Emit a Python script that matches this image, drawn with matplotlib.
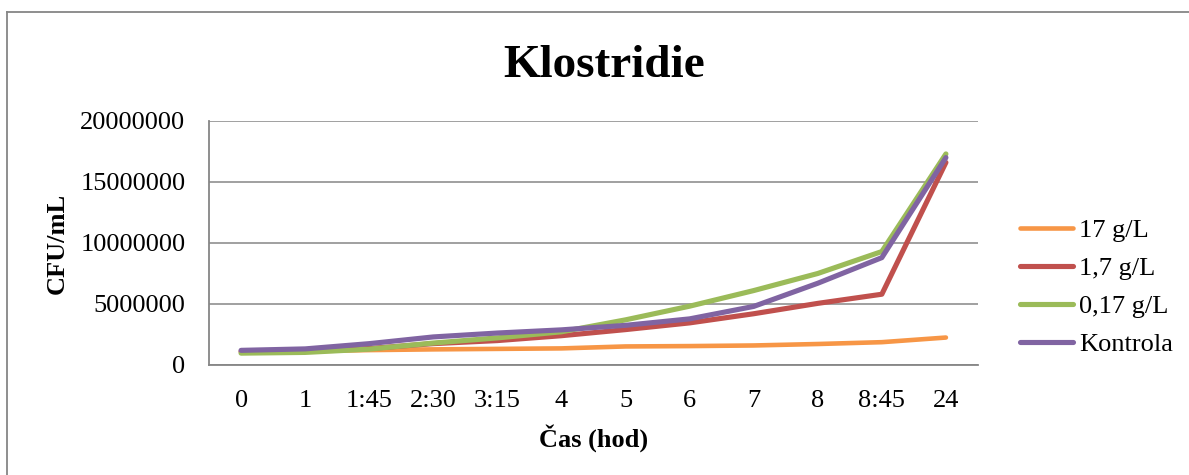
import numpy as np
import matplotlib
matplotlib.use('Agg')
import matplotlib.pyplot as plt
from matplotlib.lines import Line2D

plt.rcParams['font.family'] = ['Liberation Serif', 'DejaVu Serif']

# sampling times (hod) and CFU/mL for each concentration
times = ['0', '1', '1:45', '2:30', '3:15', '4', '5', '6', '7', '8', '8:45', '24']
c17 = [1.10e6, 1.13e6, 1.22e6, 1.28e6, 1.32e6, 1.36e6, 1.52e6, 1.55e6,
       1.60e6, 1.72e6, 1.87e6, 2.25e6]
c1_7 = [1.10e6, 1.15e6, 1.35e6, 1.75e6, 2.00e6, 2.40e6, 2.90e6, 3.45e6,
        4.20e6, 5.05e6, 5.80e6, 16.6e6]
c0_17 = [0.97e6, 1.03e6, 1.30e6, 1.80e6, 2.22e6, 2.72e6, 3.70e6, 4.82e6,
         6.10e6, 7.50e6, 9.30e6, 17.3e6]
kontrola = [1.20e6, 1.32e6, 1.75e6, 2.30e6, 2.62e6, 2.88e6, 3.25e6, 3.78e6,
            4.80e6, 6.70e6, 8.80e6, 17.0e6]
series_names = ['17 g/L', '1,7 g/L', '0,17 g/L', 'Kontrola']
yticks = [0, 5000000, 10000000, 15000000, 20000000]

colors = ['#F79646', '#C0504D', '#9BBB59', '#8064A2']
widths = [3.3, 3.7, 3.7, 3.7]
grid_col = '#868686'
fs = 19

fig = plt.figure(figsize=(11.89, 4.75), dpi=100)
ax = fig.add_axes([0.1758, 0.2316, 0.8225 - 0.1758, 0.7453 - 0.2316])

x = np.arange(len(times))
handles = []
for vals, col, lw, name in zip([c17, c1_7, c0_17, kontrola], colors, widths,
                               series_names):
    ln, = ax.plot(x, vals, color=col, lw=lw, solid_capstyle='round',
                  solid_joinstyle='round', label=name)
    handles.append(ln)

ax.set_xlim(-0.5, len(times) - 0.5)
ax.set_ylim(0, 20000000)
ax.set_xticks(x)
ax.set_xticklabels(times)
ax.set_yticks(yticks)
ax.set_yticklabels(['%d' % v for v in yticks])
ax.tick_params(axis='both', length=0, labelsize=fs)
ax.tick_params(axis='y', pad=17)
ax.tick_params(axis='x', pad=18)
ax.yaxis.grid(True, color=grid_col, lw=1.1)
ax.set_axisbelow(True)
for s in ['top', 'right']:
    ax.spines[s].set_visible(False)
for s in ['left', 'bottom']:
    ax.spines[s].set_color(grid_col)
    ax.spines[s].set_linewidth(1.3)

fig.text(0.508, 1 - 77 / 475., 'Klostridie', ha='center', va='baseline',
         fontsize=34, fontweight='bold')
fig.text(57 / 1189., 0.4884, 'CFU/mL', rotation=90, ha='center', va='center',
         fontsize=fs, fontweight='bold')
fig.text(594 / 1189., 1 - 438 / 475., 'Čas (hod)', ha='center', va='center',
         fontsize=fs, fontweight='bold')

leg = fig.legend(handles=handles, loc='center left',
                 bbox_to_anchor=(1020 / 1189., 1 - 287.5 / 475.),
                 frameon=False, fontsize=fs, handlelength=2.0,
                 handletextpad=0.25, labelspacing=0.55, borderpad=0,
                 borderaxespad=0)

# outer chart border (top and left only visible)
fig.add_artist(Line2D([7 / 1189., 1.0], [1 - 12 / 475., 1 - 12 / 475.],
                      transform=fig.transFigure, color=grid_col, lw=1.3))
fig.add_artist(Line2D([7 / 1189., 7 / 1189.], [0.0, 1 - 12 / 475.],
                      transform=fig.transFigure, color=grid_col, lw=1.3))

fig.savefig('out.png', dpi=100)
